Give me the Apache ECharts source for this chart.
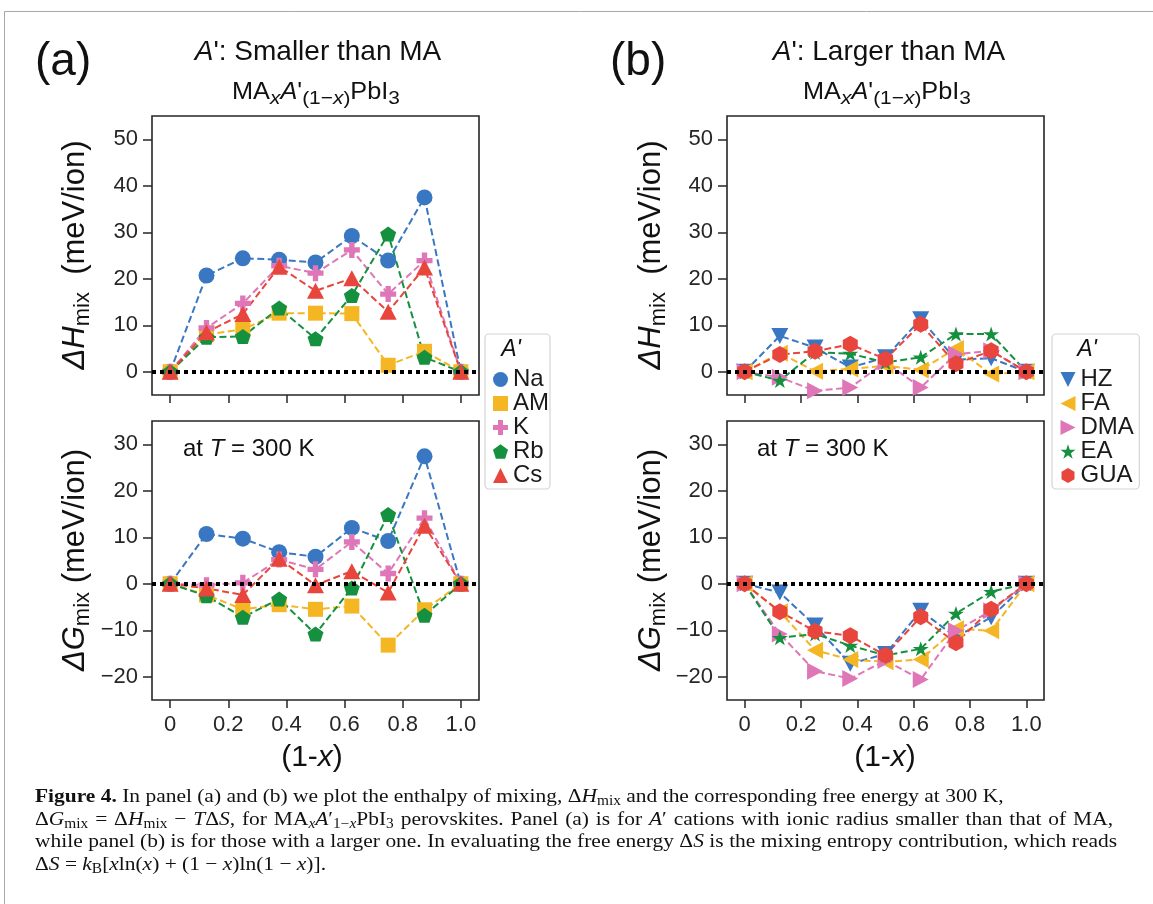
<!DOCTYPE html>
<html><head><meta charset="utf-8">
<script src="https://cdn.jsdelivr.net/npm/echarts@6/dist/echarts.min.js"></script>
<style>html,body{margin:0;padding:0;background:#fff;}#c{width:1153px;height:904px;}</style>
</head><body><div id="c"></div>
<script>
// ---------------- data ----------------
const xValues = [0, 0.125, 0.25, 0.375, 0.5, 0.625, 0.75, 0.875, 1];
const xTicks = [0, 0.2, 0.4, 0.6, 0.8, 1.0];
const yTicksH = [0, 10, 20, 30, 40, 50];
const yTicksG = [-20, -10, 0, 10, 20, 30];

const namesA = ['Na', 'AM', 'K', 'Rb', 'Cs'];
const dH_Na = [0, 20.7, 24.4, 24.1, 23.5, 29.2, 23.9, 37.5, 0];
const dH_AM = [0, 8.0, 9.1, 12.6, 12.6, 12.5, 1.4, 4.4, 0];
const dH_K  = [0, 9.4, 14.7, 22.8, 21.2, 26.2, 16.7, 23.9, 0];
const dH_Rb = [0, 7.4, 7.6, 13.7, 7.1, 16.4, 29.6, 3.1, 0];
const dH_Cs = [0, 8.5, 12.4, 22.6, 17.4, 20.1, 12.9, 22.4, 0];
const dG_Na = [0, 10.7, 9.7, 6.8, 5.8, 12.0, 9.2, 27.4, 0];
const dG_AM = [0, -2.4, -5.5, -4.5, -5.5, -4.8, -13.2, -5.6, 0];
const dG_K  = [0, -0.3, 0.2, 5.2, 3.1, 9.0, 2.2, 14.1, 0];
const dG_Rb = [0, -2.6, -7.2, -3.3, -10.8, -0.9, 14.9, -6.8, 0];
const dG_Cs = [0, -1.0, -2.4, 5.4, -0.3, 2.7, -1.9, 12.5, 0];

const namesB = ['HZ', 'FA', 'DMA', 'EA', 'GUA'];
const dH_HZ  = [0, 7.7, 5.2, 0.9, 3.1, 11.3, 2.6, 2.9, 0];
const dH_FA  = [0, 4.0, 0.1, 0.6, 1.3, 0.4, 5.0, -0.5, 0];
const dH_DMA = [0, -1.2, -4.1, -3.4, 2.1, -3.4, 3.8, 4.5, 0];
const dH_EA  = [0, -1.9, 4.2, 3.9, 2.0, 3.1, 8.1, 8.1, 0];
const dH_GUA = [0, 3.7, 4.4, 5.9, 2.7, 10.2, 1.7, 4.5, 0];
const dG_HZ  = [0, -1.9, -9.0, -17.2, -15.1, -5.8, -11.5, -7.2, 0];
const dG_FA  = [0, -6.0, -14.3, -16.3, -16.8, -16.3, -9.7, -10.1, 0];
const dG_DMA = [0, -10.8, -18.8, -20.4, -16.5, -20.6, -10.1, -5.8, 0];
const dG_EA  = [0, -11.6, -10.8, -13.3, -15.4, -14.0, -6.4, -1.7, 0];
const dG_GUA = [0, -6.0, -10.2, -11.2, -15.4, -7.1, -12.7, -5.5, 0];

// ---------------- styles ----------------
const FONT = '"Liberation Sans", Arial, sans-serif';
const SERIF = '"Liberation Serif", "Times New Roman", serif';
const AX = '#262626';
const C = { blue: '#3A77C2', yellow: '#F4B622', pink: '#DE76B8', green: '#14903F', red: '#E8453C' };
const colorsA = [C.blue, C.yellow, C.pink, C.green, C.red];
const colorsB = [C.blue, C.yellow, C.pink, C.green, C.red];

function poly(pts) { return 'path://M' + pts.map(p => p[0].toFixed(4) + ',' + p[1].toFixed(4)).join('L') + 'Z'; }
const pent = poly([0,1,2,3,4].map(k => { const a = (-90 + 72 * k) * Math.PI / 180; return [Math.cos(a), Math.sin(a)]; }));
const hexa = poly([0,1,2,3,4,5].map(k => { const a = (-90 + 60 * k) * Math.PI / 180; return [Math.cos(a), Math.sin(a)]; }));
const star = poly([0,1,2,3,4,5,6,7,8,9].map(k => { const a = (-90 + 36 * k) * Math.PI / 180; const r = k % 2 ? 0.382 : 1; return [r * Math.cos(a), r * Math.sin(a)]; }));
const plus = 'path://M2,0H4V2H6V4H4V6H2V4H0V2H2Z';
const triDown = 'path://M0,0L2,0L1,2Z';
const triLeft = 'path://M2,0L2,2L0,1Z';
const triRight = 'path://M0,0L0,2L2,1Z';

const symA = ['circle', 'rect', plus, pent, 'triangle'];
const sizeA = [16, 15, 16, [16, 15], [17, 16]];
const symB = [triDown, triLeft, triRight, star, hexa];
const sizeB = [[17, 16], [16, 17], [16, 17], [16, 15], [15, 17]];

const grids = [
  { left: 152, top: 116, width: 327, height: 279 },
  { left: 152, top: 421, width: 327, height: 279 },
  { left: 727, top: 116, width: 317, height: 279 },
  { left: 727, top: 421, width: 317, height: 279 }
].map(g => Object.assign({ show: true, borderColor: AX, borderWidth: 1.6, backgroundColor: 'transparent', containLabel: false }, g));

function xAx(i, labels) {
  return {
    type: 'value', gridIndex: i, min: -0.0625, max: 1.0625,
    axisLine: { show: false, onZero: false },
    axisTick: { show: true, inside: false, length: 8, customValues: xTicks, lineStyle: { color: AX, width: 1.5 } },
    axisLabel: { show: labels, customValues: xTicks, margin: 14, fontSize: 22, fontFamily: FONT, color: AX,
      formatter: v => (v === 0 ? '0' : v.toFixed(1)) },
    splitLine: { show: false }
  };
}
function yAx(i, min, max, ticks) {
  return {
    type: 'value', gridIndex: i, min: min, max: max,
    axisLine: { show: false, onZero: false },
    axisTick: { show: true, inside: false, length: 9, customValues: ticks, lineStyle: { color: AX, width: 1.5 } },
    axisLabel: { show: true, customValues: ticks, margin: 14, fontSize: 22, fontFamily: FONT, color: AX,
      formatter: v => String(v).replace('-', '\u2212') },
    splitLine: { show: false }
  };
}

function mk(name, vals, gi, sym, size, color, zeroLine) {
  const s = {
    type: 'line', name: name, xAxisIndex: gi, yAxisIndex: gi,
    data: xValues.map((x, k) => [x, vals[k]]),
    symbol: sym, symbolSize: size, showSymbol: true, symbolKeepAspect: false,
    lineStyle: { color: color, width: 2, type: [7, 3.5] },
    itemStyle: { color: color, opacity: 1 },
    animation: false, silent: true, z: 3
  };
  if (zeroLine) {
    s.markLine = { silent: true, symbol: 'none', label: { show: false }, animation: false,
      lineStyle: { color: '#000', width: 4, type: [4, 4] }, data: [{ yAxis: 0 }] };
  }
  return s;
}

const series = [];
const A_H = [dH_Na, dH_AM, dH_K, dH_Rb, dH_Cs];
const A_G = [dG_Na, dG_AM, dG_K, dG_Rb, dG_Cs];
const B_H = [dH_HZ, dH_FA, dH_DMA, dH_EA, dH_GUA];
const B_G = [dG_HZ, dG_FA, dG_DMA, dG_EA, dG_GUA];
namesA.forEach((n, i) => series.push(mk(n, A_H[i], 0, symA[i], sizeA[i], colorsA[i], i === 0)));
namesA.forEach((n, i) => series.push(mk(n, A_G[i], 1, symA[i], sizeA[i], colorsA[i], i === 0)));
namesB.forEach((n, i) => series.push(mk(n, B_H[i], 2, symB[i], sizeB[i], colorsB[i], i === 0)));
namesB.forEach((n, i) => series.push(mk(n, B_G[i], 3, symB[i], sizeB[i], colorsB[i], i === 0)));

function legend(names, syms, left, top, pad) {
  return {
    orient: 'vertical', left: left, top: top, padding: pad,
    data: names.map((n, i) => ({ name: n, icon: syms[i] })),
    itemWidth: 15, itemHeight: 15, itemGap: 0, selectedMode: false,
    textStyle: { fontSize: 24, fontFamily: FONT, color: '#1a1a1a', lineHeight: 23 },
    borderColor: '#d4d4d4', borderWidth: 1.2, borderRadius: 4, backgroundColor: '#fff'
  };
}

// ---------------- texts ----------------
function txt(x, y, text, opt) {
  opt = opt || {};
  const el = {
    type: 'text', x: x, y: y, rotation: opt.rotation || 0, z: 100,
    style: {
      text: text, fill: opt.fill || '#111', fontFamily: opt.family || FONT, fontSize: opt.size || 20,
      fontStyle: opt.style || 'normal', fontWeight: opt.weight || 'normal',
      align: opt.align || 'center', verticalAlign: opt.valign || 'middle'
    }
  };
  if (opt.lh) el.style.lineHeight = opt.lh;
  if (opt.rich) el.style.rich = opt.rich;
  if (opt.sx) el.scaleX = opt.sx;
  return el;
}
function richSans(size, lh, subSize) {
  return {
    i: { fontStyle: 'italic', fontSize: size, fontFamily: FONT, fill: '#111', lineHeight: lh },
    s: { fontSize: subSize, fontFamily: FONT, fill: '#111', verticalAlign: 'bottom', lineHeight: subSize },
    si: { fontSize: subSize, fontStyle: 'italic', fontFamily: FONT, fill: '#111', verticalAlign: 'bottom', lineHeight: subSize }
  };
}

// caption
const CAP = 19.5, CAPSUB = 14, CAPLH = 23, CAPSX = 1.1;
const capRich = {
  b: { fontWeight: 'bold', fontFamily: SERIF, fontSize: CAP, fill: '#111', lineHeight: CAPLH },
  i: { fontStyle: 'italic', fontFamily: SERIF, fontSize: CAP, fill: '#111', lineHeight: CAPLH },
  s: { fontFamily: SERIF, fontSize: CAPSUB, fill: '#111', verticalAlign: 'bottom', lineHeight: CAPSUB },
  si: { fontFamily: SERIF, fontStyle: 'italic', fontSize: CAPSUB, fill: '#111', verticalAlign: 'bottom', lineHeight: CAPSUB }
};
const mctx = document.createElement('canvas').getContext('2d');
function capFont(st) {
  const sz = (st === 's' || st === 'si') ? CAPSUB : CAP;
  return ((st === 'i' || st === 'si') ? 'italic ' : '') + (st === 'b' ? 'bold ' : '') + sz + 'px ' + SERIF;
}
function cap(y, line, target) {
  let rich = capRich, text = line;
  if (target) {
    const re = /\{(\w+)\|([^}]*)\}|([^{]+)/g;
    let m, w = 0, nsp = 0, out = '';
    while ((m = re.exec(line))) {
      const st = m[1] || '', t = m[1] ? m[2] : m[3];
      mctx.font = capFont(st);
      const parts = t.split(' ');
      nsp += parts.length - 1;
      w += mctx.measureText(parts.join('')).width;
      out += parts.map(p => (p === '' ? '' : (st ? '{' + st + '|' + p + '}' : p))).join('{g| }');
    }
    const gap = Math.max(2, (target / CAPSX - w) / Math.max(1, nsp));
    rich = Object.assign({}, capRich, { g: { width: gap, fontFamily: SERIF, fontSize: CAP, lineHeight: CAPLH } });
    text = out;
  }
  return txt(35, y, text, { family: SERIF, size: CAP, align: 'left', lh: CAPLH, rich: rich, sx: CAPSX });
}

const graphics = [
  { type: 'rect', shape: { x: 4.5, y: 11.5, width: 1300, height: 1000 }, style: { fill: 'none', stroke: '#a8a8a8', lineWidth: 1 }, z: 0 },
  txt(35, 62, '(a)', { size: 46, align: 'left' }),
  txt(610, 62, '(b)', { size: 46, align: 'left' }),
  txt(318, 52, "{i|A}': Smaller than MA", { size: 28, lh: 32, rich: richSans(28, 32, 19) }),
  txt(889, 52, "{i|A}': Larger than MA", { size: 28, lh: 32, rich: richSans(28, 32, 19) }),
  txt(316, 93, "MA{si|x}{i|A}'{s|(1\u2212}{si|x}{s|)}PbI{s|3}", { size: 23, lh: 30, rich: richSans(23, 30, 19), sx: 1.1 }),
  txt(887, 93, "MA{si|x}{i|A}'{s|(1\u2212}{si|x}{s|)}PbI{s|3}", { size: 23, lh: 30, rich: richSans(23, 30, 19), sx: 1.1 }),
  txt(75, 255, '{i|\u0394H}{s|mix}  (meV/ion)', { size: 31, lh: 38, rotation: Math.PI / 2, rich: richSans(31, 38, 22) }),
  txt(75, 560, '{i|\u0394G}{s|mix} (meV/ion)', { size: 31, lh: 38, rotation: Math.PI / 2, rich: richSans(31, 38, 22) }),
  txt(651, 255, '{i|\u0394H}{s|mix}  (meV/ion)', { size: 31, lh: 38, rotation: Math.PI / 2, rich: richSans(31, 38, 22) }),
  txt(651, 560, '{i|\u0394G}{s|mix} (meV/ion)', { size: 31, lh: 38, rotation: Math.PI / 2, rich: richSans(31, 38, 22) }),
  txt(312, 758, '(1-{i|x})', { size: 30, lh: 36, rich: richSans(30, 36, 21) }),
  txt(885, 758, '(1-{i|x})', { size: 30, lh: 36, rich: richSans(30, 36, 21) }),
  txt(183, 449, 'at {i|T} = 300 K', { size: 24, align: 'left', lh: 28, rich: richSans(24, 28, 17) }),
  txt(757, 449, 'at {i|T} = 300 K', { size: 24, align: 'left', lh: 28, rich: richSans(24, 28, 17) }),
  txt(511, 350, "A'", { size: 23, style: 'italic' }),
  txt(1087, 350, "A'", { size: 23, style: 'italic' }),
  cap(797, '{b|Figure 4.} In panel (a) and (b) we plot the enthalpy of mixing, \u0394{i|H}{s|mix} and the corresponding free energy at 300 K,', 0),
  cap(820, '\u0394{i|G}{s|mix} = \u0394{i|H}{s|mix} \u2212 {i|T}\u0394{i|S}, for MA{si|x}{i|A}\u2032{s|1\u2212}{si|x}PbI{s|3} perovskites. Panel (a) is for {i|A}\u2032 cations with ionic radius smaller than that of MA,', 1078),
  cap(842, 'while panel (b) is for those with a larger one. In evaluating the free energy \u0394{i|S} is the mixing entropy contribution, which reads', 1082),
  cap(865, '\u0394{i|S} = {i|k}{s|B}[{i|x}ln({i|x}) + (1 \u2212 {i|x})ln(1 \u2212 {i|x})].', 0)
];

const chart = echarts.init(document.getElementById('c'), null, { renderer: 'canvas' });
chart.setOption({
  animation: false,
  backgroundColor: '#fff',
  grid: grids,
  xAxis: [xAx(0, false), xAx(1, true), xAx(2, false), xAx(3, true)],
  yAxis: [yAx(0, -5, 55, yTicksH), yAx(1, -25, 35, yTicksG), yAx(2, -5, 55, yTicksH), yAx(3, -25, 35, yTicksG)],
  legend: [legend(namesA, symA, 485, 334, [33.5, 1, 1.5, 8]), legend(namesB, symB, 1052, 334, [33.5, 5.5, 1.5, 8.5])],
  series: series,
  graphic: graphics
});
</script></body></html>
